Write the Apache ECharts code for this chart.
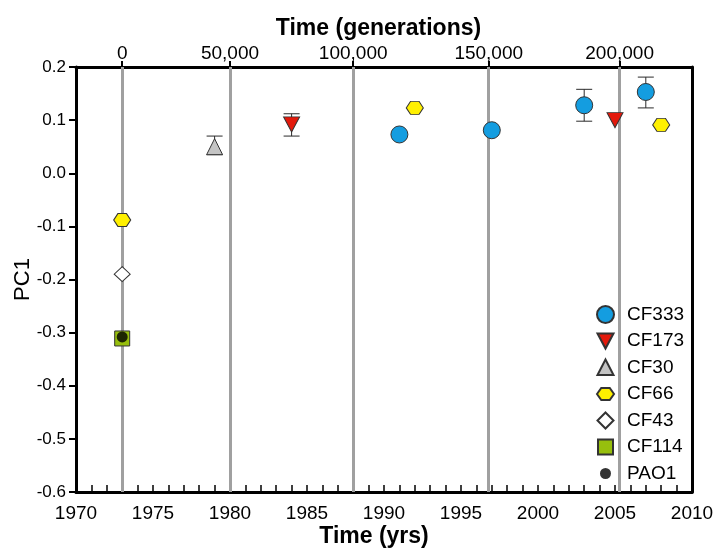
<!DOCTYPE html>
<html>
<head>
<meta charset="utf-8">
<title>PC1 over time</title>
<script src="https://cdn.jsdelivr.net/npm/echarts@6/dist/echarts.min.js"></script>
<style>
  html, body { margin: 0; padding: 0; background: #fff; }
  #chart { width: 714px; height: 548px; }
</style>
</head>
<body>
<div id="chart"></div>
<script>
// Isolate scores (PC1) by sampling year
const cf333Years = [1991, 1997, 2003, 2007];
const cf333Pc1 = [0.073, 0.081, 0.128, 0.153];

const cf173Years = [1984, 2005];
const cf173Pc1 = [0.092, 0.100];

const cf30Years = [1979];
const cf30Pc1 = [0.050];

const cf66Years = [1973, 1992, 2008];
const cf66Pc1 = [-0.088, 0.123, 0.091];

const cf43Years = [1973];
const cf43Pc1 = [-0.190];

const cf114Years = [1973];
const cf114Pc1 = [-0.311];

const pao1Years = [1973];
const pao1Pc1 = [-0.308];

// Error bars (year, low, high)
const errYears = [1979, 1984, 2003, 2007];
const errLow = [0.035, 0.070, 0.098, 0.123];
const errHigh = [0.070, 0.112, 0.158, 0.181];

// Generation scale on the top axis, placed at the matching calendar year
const genValues = [0, 50000, 100000, 150000, 200000];
const genYears = [1973, 1980, 1988, 1996.8, 2005.3];

const xMin = 1970, xMax = 2010, xStep = 5;
const yMin = -0.6, yMax = 0.2, yStep = 0.1;

const FONT = 'Liberation Sans, Arial, Helvetica, sans-serif';
const EDGE = '#333';

const hexPath = 'path://M0,6.5 L4,0 L12,0 L16,6.5 L12,13 L4,13 Z';
const downTri = 'path://M0,0 L16,0 L8,15 Z';

function pairs(xs, ys) { return xs.map((x, i) => [x, ys[i]]); }

const chart = echarts.init(document.getElementById('chart'), null, { renderer: 'canvas' });

function scatter(name, xs, ys, symbol, size, color, extra) {
  return Object.assign({
    name: name,
    type: 'scatter',
    xAxisIndex: 0,
    yAxisIndex: 0,
    z: 4,
    symbol: symbol,
    symbolSize: size,
    itemStyle: { color: color, borderColor: EDGE, borderWidth: 1, opacity: 1 },
    emphasis: { disabled: true },
    data: pairs(xs, ys)
  }, extra || {});
}

const option = {
  animation: false,
  backgroundColor: '#fff',
  textStyle: { fontFamily: FONT },
  grid: { left: 76, right: 22, top: 67, bottom: 56, containLabel: false, outerBoundsMode: 'none' },
  xAxis: [
    {
      type: 'value',
      position: 'bottom',
      min: xMin, max: xMax, interval: xStep,
      name: 'Time (yrs)',
      nameLocation: 'middle',
      nameGap: 33,
      nameMoveOverlap: false,
      nameTextStyle: { fontFamily: FONT, fontSize: 23, fontWeight: 'bold', color: '#000', padding: [0, 20, 0, 0] },
      axisLine: { show: true, onZero: false, lineStyle: { color: '#000', width: 3 } },
      axisTick: { show: true, inside: true, length: 7, lineStyle: { color: '#000', width: 1.5 } },
      minorTick: { show: true, splitNumber: 5, length: 7, lineStyle: { color: '#000', width: 1.5 } },
      axisLabel: { fontFamily: FONT, fontSize: 19, color: '#000', margin: 12, formatter: v => String(v) },
      splitLine: { show: false }
    },
    {
      type: 'value',
      position: 'top',
      min: xMin, max: xMax,
      name: 'Time (generations)',
      nameLocation: 'middle',
      nameGap: 27,
      nameMoveOverlap: false,
      nameTextStyle: { fontFamily: FONT, fontSize: 23, fontWeight: 'bold', color: '#000', padding: [0, 11, 0, 0] },
      axisLine: { show: true, onZero: false, lineStyle: { color: '#000', width: 3 } },
      axisTick: { show: true, inside: false, length: 6, customValues: genYears, lineStyle: { color: '#000', width: 2 } },
      axisLabel: {
        fontFamily: FONT, fontSize: 19, color: '#000', margin: 4,
        customValues: genYears,
        formatter: function (v) {
          let best = 0;
          genYears.forEach((y, i) => { if (Math.abs(y - v) < Math.abs(genYears[best] - v)) best = i; });
          return genValues[best].toLocaleString('en-US');
        }
      },
      splitLine: { show: false }
    }
  ],
  yAxis: [
    {
      type: 'value',
      position: 'left',
      min: yMin, max: yMax, interval: yStep,
      name: 'PC1',
      nameLocation: 'middle',
      nameGap: 42,
      nameMoveOverlap: false,
      nameTextStyle: { fontFamily: FONT, fontSize: 22, color: '#000' },
      axisLine: { show: true, onZero: false, lineStyle: { color: '#000', width: 3 } },
      axisTick: { show: true, inside: false, length: 7, lineStyle: { color: '#000', width: 2 } },
      axisLabel: {
        fontFamily: FONT, fontSize: 17, color: '#000', margin: 10,
        formatter: v => (Math.abs(v) < 1e-9 ? '0.0' : v.toFixed(1))
      },
      splitLine: { show: false }
    },
    {
      type: 'value',
      position: 'right',
      min: yMin, max: yMax, interval: yStep,
      axisLine: { show: true, onZero: false, lineStyle: { color: '#000', width: 3 } },
      axisTick: { show: false },
      axisLabel: { show: false },
      splitLine: { show: false }
    }
  ],
  legend: {
    orient: 'vertical',
    left: 596,
    top: 305,
    padding: 0,
    itemWidth: 17,
    itemHeight: 17,
    itemGap: 7.5,
    textStyle: { fontFamily: FONT, fontSize: 19, color: '#000', padding: [0, 0, 0, 8] },
    selectedMode: false,
    data: [
      { name: 'CF333', icon: 'circle' },
      { name: 'CF173', icon: 'path://M0,0 M17,17 M0.5,1 L16.5,1 L8.5,16 Z' },
      { name: 'CF30', icon: 'path://M0,0 M17,17 M8.5,0.5 L16.5,16 L0.5,16 Z' },
      { name: 'CF66', icon: 'path://M0,0 M17,17 M0,8.5 L4.25,2.5 L12.75,2.5 L17,8.5 L12.75,14.5 L4.25,14.5 Z' },
      { name: 'CF43', icon: 'path://M0,0 M17,17 M8.5,0.5 L16.5,8.5 L8.5,16.5 L0.5,8.5 Z' },
      { name: 'CF114', icon: 'path://M0,0 M17,17 M1,1 L16,1 L16,16 L1,16 Z' },
      { name: 'PAO1', icon: 'path://M0,0 M17,17 M3,8.5 A5.5,5.5 0 1 1 14,8.5 A5.5,5.5 0 1 1 3,8.5 Z' }
    ]
  },
  series: [
    {
      // vertical guides at the generation marks
      name: 'generations',
      type: 'line',
      xAxisIndex: 0,
      yAxisIndex: 0,
      z: 1,
      data: [],
      silent: true,
      markLine: {
        z: 1,
        silent: true,
        symbol: ['none', 'none'],
        label: { show: false },
        lineStyle: { color: '#a0a0a0', width: 3, type: 'solid' },
        emphasis: { disabled: true },
        data: genYears.map(y => ({ xAxis: y }))
      }
    },
    {
      name: 'error',
      type: 'custom',
      xAxisIndex: 0,
      yAxisIndex: 0,
      z: 2,
      silent: true,
      data: errYears.map((x, i) => [x, errLow[i], errHigh[i]]),
      renderItem: function (params, api) {
        const x = api.value(0);
        const lo = api.coord([x, api.value(1)]);
        const hi = api.coord([x, api.value(2)]);
        const hw = 8;
        const st = { stroke: '#2a2a2a', lineWidth: 1 };
        return {
          type: 'group',
          children: [
            { type: 'line', shape: { x1: lo[0], y1: lo[1], x2: hi[0], y2: hi[1] }, style: st },
            { type: 'line', shape: { x1: lo[0] - hw, y1: lo[1], x2: lo[0] + hw, y2: lo[1] }, style: st },
            { type: 'line', shape: { x1: hi[0] - hw, y1: hi[1], x2: hi[0] + hw, y2: hi[1] }, style: st }
          ]
        };
      }
    },
    scatter('CF333', cf333Years, cf333Pc1, 'circle', 17, '#149de0'),
    scatter('CF173', cf173Years, cf173Pc1, downTri, [16, 15], '#e3190b'),
    scatter('CF30', cf30Years, cf30Pc1, 'triangle', [16, 16], '#c4c4c4'),
    scatter('CF66', cf66Years, cf66Pc1, hexPath, [17, 13], '#fff000'),
    scatter('CF43', cf43Years, cf43Pc1, 'diamond', [16, 15], '#ffffff'),
    scatter('CF114', cf114Years, cf114Pc1, 'rect', 15, '#97bf0d'),
    scatter('PAO1', pao1Years, pao1Pc1, 'circle', 11, '#000000', { z: 5, itemStyle: { color: '#000', borderColor: '#000', borderWidth: 0 } })
  ]
};

chart.setOption(option);
</script>
</body>
</html>
